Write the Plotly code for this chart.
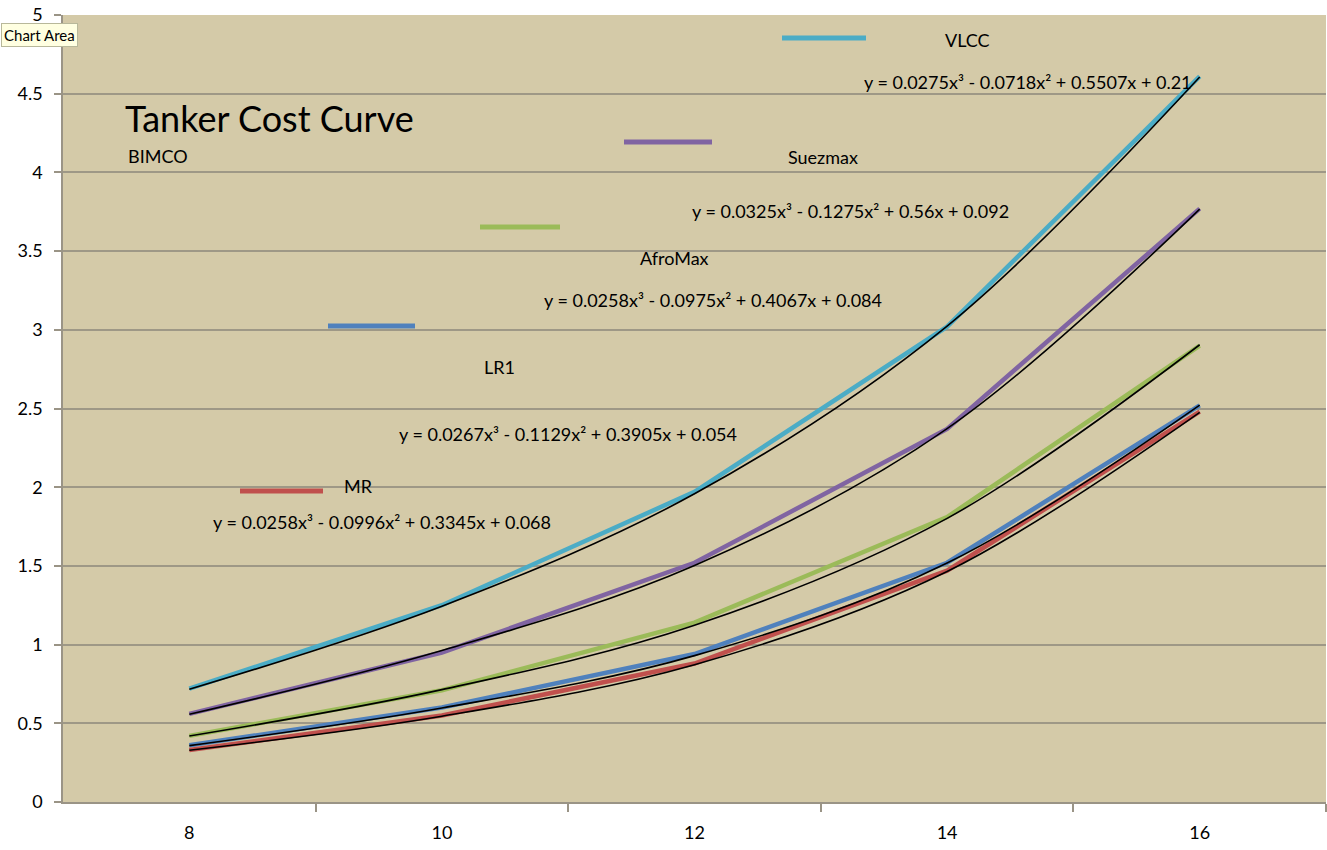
import plotly.graph_objects as go

# ---- data ----
categories = [8, 10, 12, 14, 16]
series_names = ["VLCC", "Suezmax", "AfroMax", "LR1", "MR"]

vlcc = [0.72, 1.25, 1.97, 3.02, 4.61]
suezmax = [0.56, 0.95, 1.52, 2.37, 3.77]
afromax = [0.42, 0.71, 1.14, 1.81, 2.90]
lr1 = [0.36, 0.60, 0.94, 1.52, 2.52]
mr = [0.33, 0.55, 0.88, 1.47, 2.48]

# polynomial trendline values at each category (black curves)
vlcc_trend = [0.716, 1.244, 1.958, 3.024, 4.606]
suezmax_trend = [0.557, 0.962, 1.502, 2.372, 3.767]
afromax_trend = [0.419, 0.714, 1.123, 1.802, 2.905]
lr1_trend = [0.358, 0.597, 0.930, 1.518, 2.522]
mr_trend = [0.329, 0.545, 0.872, 1.464, 2.476]

equations = [
    "y = 0.0275x³ - 0.0718x² + 0.5507x + 0.21",
    "y = 0.0325x³ - 0.1275x² + 0.56x + 0.092",
    "y = 0.0258x³ - 0.0975x² + 0.4067x + 0.084",
    "y = 0.0267x³ - 0.1129x² + 0.3905x + 0.054",
    "y = 0.0258x³ - 0.0996x² + 0.3345x + 0.068",
]

y_ticks = [0, 0.5, 1, 1.5, 2, 2.5, 3, 3.5, 4, 4.5, 5]
y_tick_text = ["0", "0.5", "1", "1.5", "2", "2.5", "3", "3.5", "4", "4.5", "5"]

colors = ["#4BACC6", "#8064A2", "#9BBB59", "#4F81BD", "#C0504D"]
data = [vlcc, suezmax, afromax, lr1, mr]
trends = [vlcc_trend, suezmax_trend, afromax_trend, lr1_trend, mr_trend]

W, H = 1327, 850
# plot area on screen: x 63..1326, y 15..802
L, T = 63, 15
R = W - 1326
B = H - 802
PW, PH = W - L - R, H - T - B


def px(x):
    # screen pixel x -> paper
    return (x - L) / PW


def py(y):
    # screen pixel y -> paper
    return (H - B - y) / PH


FONT = "Lato"
fig = go.Figure()

for name, vals, col in zip(series_names, data, colors):
    fig.add_trace(go.Scatter(x=categories, y=vals, mode="lines", name=name,
                             line=dict(color=col, width=4.5), showlegend=False))
for name, vals in zip(series_names, trends):
    fig.add_trace(go.Scatter(x=categories, y=vals, mode="lines", name=name + " trend",
                             line=dict(color="black", width=1.6, shape="spline", smoothing=1.0),
                             showlegend=False))

# legend-like swatches and labels placed as in the picture
swatches = [(782, 866, 38), (624, 712, 142), (480, 560, 227), (328, 415, 326), (240, 323, 491)]
label_pos = [(967, 40), (823, 157), (674, 258), (499, 367), (358, 486)]
eq_pos = [(1028, 82), (850, 211), (713, 300), (568, 434), (382, 522)]

shapes = []
annotations = []
for (x0, x1, yy), col in zip(swatches, colors):
    shapes.append(dict(type="line", xref="paper", yref="paper", x0=px(x0), x1=px(x1),
                       y0=py(yy), y1=py(yy), line=dict(color=col, width=5)))
for (lx, ly), name in zip(label_pos, series_names):
    annotations.append(dict(xref="paper", yref="paper", x=px(lx), y=py(ly), text=name,
                            xanchor="center", yanchor="middle",
                            showarrow=False, font=dict(family=FONT, size=18, color="black")))
for (ex, ey), eq in zip(eq_pos, equations):
    annotations.append(dict(xref="paper", yref="paper", x=px(ex), y=py(ey), text=eq,
                            xanchor="center", yanchor="middle",
                            showarrow=False, font=dict(family=FONT, size=18, color="black")))

annotations.append(dict(xref="paper", yref="paper", x=px(123), y=py(118), xanchor="left",
                        yanchor="middle", text="Tanker Cost Curve", showarrow=False,
                        font=dict(family=FONT, size=36, color="black")))
annotations.append(dict(xref="paper", yref="paper", x=px(126), y=py(156), xanchor="left",
                        yanchor="middle", text="BIMCO", showarrow=False,
                        font=dict(family=FONT, size=18, color="black")))
annotations.append(dict(xref="paper", yref="paper", x=px(1), y=py(35), xanchor="left",
                        yanchor="middle", text="Chart Area", showarrow=False, bgcolor="#FFFFE1",
                        bordercolor="#B8B89A", borderwidth=1, borderpad=2,
                        font=dict(family=FONT, size=15, color="black")))

fig.update_layout(
    width=W, height=H,
    margin=dict(l=L, r=R, t=T, b=B),
    paper_bgcolor="white",
    plot_bgcolor="#D4CAA8",
    shapes=shapes,
    annotations=annotations,
    showlegend=False,
    xaxis=dict(range=[7, 17], tickvals=categories, ticktext=[str(c) for c in categories],
               ticks="", showgrid=False, zeroline=False, showline=True, automargin=False,
               linecolor="#9A9486", linewidth=1.5, ticklabelstandoff=14,
               tickfont=dict(family=FONT, size=18, color="black"),
               minor=dict(tickvals=[9, 11, 13, 15, 17], ticks="outside", ticklen=8,
                          tickcolor="#9A9486", tickwidth=1.5, showgrid=False)),
    yaxis=dict(range=[0, 5], tickvals=y_ticks, ticktext=y_tick_text, automargin=False,
               ticks="outside", ticklen=7, tickcolor="#9A9486", tickwidth=1.5,
               showgrid=True, gridcolor="#9E9886", gridwidth=1.5,
               zeroline=False, showline=True, linecolor="#9A9486", linewidth=1.5,
               ticklabeloverflow="allow",
               tickfont=dict(family=FONT, size=18, color="black"), ticklabelstandoff=8),
)

fig.write_html("out.html", config={"displayModeBar": False},
               post_script="document.body.style.margin='0';document.body.style.overflow='hidden';")
